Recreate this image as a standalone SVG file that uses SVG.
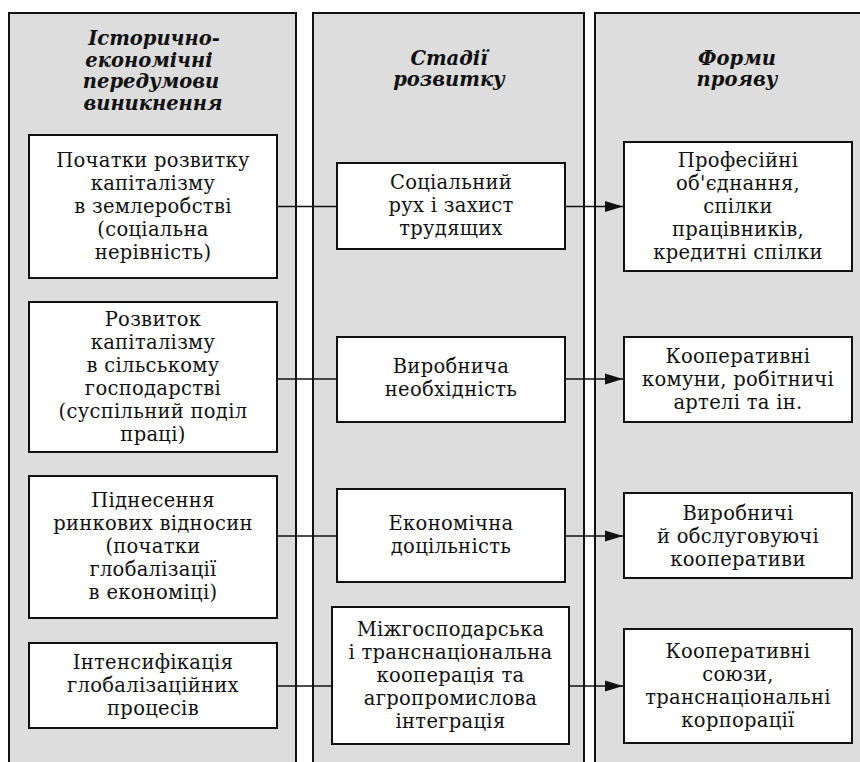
<svg xmlns="http://www.w3.org/2000/svg" width="860" height="762" viewBox="0 0 860 762">
  <defs>
    <style>
      .col { fill: #dddddd; stroke: #111; stroke-width: 2; }
      .box { fill: #ffffff; stroke: #111; stroke-width: 2; }
      .hdr { font-family: "DejaVu Serif", "Liberation Serif", serif; font-weight: bold; font-style: italic; font-size: 19.5px; fill: #111; text-anchor: middle; }
      .txt { font-family: "DejaVu Serif", "Liberation Serif", serif; font-size: 19.5px; letter-spacing: 0.3px; fill: #111; text-anchor: middle; }
      .link { stroke: #111; stroke-width: 1.6; fill: none; }
    </style>
    <marker id="arrow" markerUnits="userSpaceOnUse" markerWidth="18" markerHeight="12" refX="18" refY="6" orient="auto">
      <path d="M0,0.5 L18,6 L0,11.5 Z" fill="#111"/>
    </marker>
  </defs>

  <rect width="860" height="762" fill="#ffffff"/>

  <!-- three column panels -->
  <g id="col-prerequisites">
    <rect class="col" x="9" y="13" width="287" height="770"/>
    <text class="hdr"><tspan x="154" y="45">Історично-</tspan><tspan x="149" y="66.5">економічні</tspan><tspan x="151" y="88">передумови</tspan><tspan x="153" y="110">виникнення</tspan></text>
  </g>
  <g id="col-stages">
    <rect class="col" x="313" y="13" width="271" height="770"/>
    <text class="hdr"><tspan x="449" y="65">Стадії</tspan><tspan x="449" y="86">розвитку</tspan></text>
  </g>
  <g id="col-forms">
    <rect class="col" x="595" y="13" width="300" height="770"/>
    <text class="hdr"><tspan x="737" y="65">Форми</tspan><tspan x="737" y="86">прояву</tspan></text>
  </g>

  <!-- connectors -->
  <g id="connectors">
    <line class="link" x1="277" y1="206.5" x2="337" y2="206.5"/>
    <line class="link" x1="565" y1="206.5" x2="623" y2="206.5" marker-end="url(#arrow)"/>
    <line class="link" x1="277" y1="379" x2="337" y2="379"/>
    <line class="link" x1="565" y1="379" x2="623" y2="379" marker-end="url(#arrow)"/>
    <line class="link" x1="277" y1="536" x2="337" y2="536"/>
    <line class="link" x1="565" y1="536" x2="623" y2="536" marker-end="url(#arrow)"/>
    <line class="link" x1="277" y1="686" x2="332" y2="686"/>
    <line class="link" x1="569" y1="686" x2="623" y2="686" marker-end="url(#arrow)"/>
  </g>

  <!-- left column boxes -->
  <g id="l1">
    <rect class="box" x="29" y="135" width="248" height="143"/>
    <text class="txt"><tspan x="153" y="166.8">Початки розвитку</tspan><tspan x="153" y="189.8">капіталізму</tspan><tspan x="153" y="212.8">в землеробстві</tspan><tspan x="153" y="235.8">(соціальна</tspan><tspan x="153" y="258.8">нерівність)</tspan></text>
  </g>
  <g id="l2">
    <rect class="box" x="29" y="302" width="248" height="150"/>
    <text class="txt"><tspan x="153" y="325.8">Розвиток</tspan><tspan x="153" y="348.8">капіталізму</tspan><tspan x="153" y="371.8">в сільському</tspan><tspan x="153" y="394.8">господарстві</tspan><tspan x="153" y="417.8">(суспільний поділ</tspan><tspan x="153" y="440.8">праці)</tspan></text>
  </g>
  <g id="l3">
    <rect class="box" x="29" y="476" width="248" height="142"/>
    <text class="txt"><tspan x="153" y="507.3">Піднесення</tspan><tspan x="153" y="530.3">ринкових відносин</tspan><tspan x="153" y="553.3">(початки</tspan><tspan x="153" y="576.3">глобалізації</tspan><tspan x="153" y="599.3">в економіці)</tspan></text>
  </g>
  <g id="l4">
    <rect class="box" x="29" y="643" width="248" height="85"/>
    <text class="txt"><tspan x="153" y="668.8">Інтенсифікація</tspan><tspan x="153" y="691.8">глобалізаційних</tspan><tspan x="153" y="714.8">процесів</tspan></text>
  </g>

  <!-- middle column boxes -->
  <g id="m1">
    <rect class="box" x="337" y="163" width="228" height="86"/>
    <text class="txt"><tspan x="451" y="189.3">Соціальний</tspan><tspan x="451" y="212.3">рух і захист</tspan><tspan x="451" y="235.3">трудящих</tspan></text>
  </g>
  <g id="m2">
    <rect class="box" x="337" y="337" width="228" height="85"/>
    <text class="txt"><tspan x="451" y="372.8">Виробнича</tspan><tspan x="451" y="395.8">необхідність</tspan></text>
  </g>
  <g id="m3">
    <rect class="box" x="337" y="489" width="228" height="93"/>
    <text class="txt"><tspan x="451" y="530.3">Економічна</tspan><tspan x="451" y="553.3">доцільність</tspan></text>
  </g>
  <g id="m4">
    <rect class="box" x="332" y="607" width="237" height="137"/>
    <text class="txt"><tspan x="450.5" y="635.8">Міжгосподарська</tspan><tspan x="450.5" y="658.8">і транснаціональна</tspan><tspan x="450.5" y="681.8">кооперація та</tspan><tspan x="450.5" y="704.8">агропромислова</tspan><tspan x="450.5" y="727.8">інтеграція</tspan></text>
  </g>

  <!-- right column boxes -->
  <g id="r1">
    <rect class="box" x="624" y="142" width="228" height="129"/>
    <text class="txt"><tspan x="738" y="166.8">Професійні</tspan><tspan x="738" y="189.8">об'єднання,</tspan><tspan x="738" y="212.8">спілки</tspan><tspan x="738" y="235.8">працівників,</tspan><tspan x="738" y="258.8">кредитні спілки</tspan></text>
  </g>
  <g id="r2">
    <rect class="box" x="624" y="337" width="228" height="85"/>
    <text class="txt"><tspan x="738" y="362.8">Кооперативні</tspan><tspan x="738" y="385.8">комуни, робітничі</tspan><tspan x="738" y="408.8">артелі та ін.</tspan></text>
  </g>
  <g id="r3">
    <rect class="box" x="624" y="493" width="228" height="85"/>
    <text class="txt"><tspan x="738" y="519.5">Виробничі</tspan><tspan x="738" y="542.5">й обслуговуючі</tspan><tspan x="738" y="565.5">кооперативи</tspan></text>
  </g>
  <g id="r4">
    <rect class="box" x="624" y="629" width="228" height="114"/>
    <text class="txt"><tspan x="738" y="657.8">Кооперативні</tspan><tspan x="738" y="680.8">союзи,</tspan><tspan x="738" y="703.8">транснаціональні</tspan><tspan x="738" y="726.8">корпорації</tspan></text>
  </g>
</svg>
